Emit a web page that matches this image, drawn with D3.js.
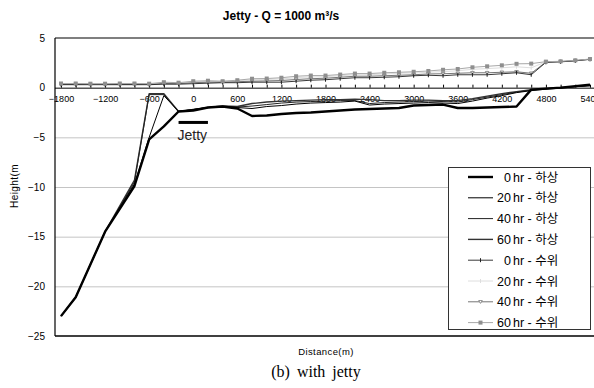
<!DOCTYPE html>
<html>
<head>
<meta charset="utf-8">
<script src="https://cdn.jsdelivr.net/npm/d3@7"></script>
<style>
  body { margin: 0; background: #fff; }
  svg { display: block; }
  text { font-family: "Liberation Sans", Arial, "Noto Sans CJK KR", sans-serif; }
</style>
</head>
<body>
<script>
// distance (m) along the channel, one category every 200 m
var distance = [-1800, -1600, -1400, -1200, -1000, -800, -600, -400, -200, 0, 200, 400, 600, 800, 1000, 1200,
                1400, 1600, 1800, 2000, 2200, 2400, 2600, 2800, 3000, 3200, 3400, 3600, 3800, 4000, 4200,
                4400, 4600, 4800, 5000, 5200, 5400];

// bed level (하상)
var bed0  = [-23.0, -21.1, -17.8, -14.5, -12.2, -9.9, -5.2, -3.9, -2.4, -2.3, -2.0, -1.9, -2.1, -2.85, -2.8, -2.65,
             -2.55, -2.5, -2.4, -2.3, -2.2, -2.15, -2.1, -2.05, -1.8, -1.75, -1.7, -2.05, -2.05, -2.0, -1.95,
             -1.9, -0.2, -0.1, 0.0, 0.15, 0.3];
var bed20 = [-23.0, -21.1, -17.8, -14.5, -12.1, -9.7, -5.0, -0.8, -2.4, -2.2, -2.0, -1.9, -2.0, -2.1, -1.9, -1.8,
             -1.65, -1.55, -1.5, -1.45, -1.35, -1.75, -1.65, -1.6, -1.55, -1.5, -1.55, -1.6, -1.35, -1.05, -0.8,
             -0.5, -0.3, -0.15, -0.05, 0.1, 0.25];
var bed40 = [-23.0, -21.1, -17.8, -14.5, -12.0, -9.5, -0.7, -0.7, -2.4, -2.2, -2.0, -1.9, -1.95, -1.85, -1.7, -1.55,
             -1.45, -1.4, -1.35, -1.3, -1.3, -1.6, -1.5, -1.45, -1.4, -1.35, -1.4, -1.45, -1.2, -0.95, -0.7,
             -0.45, -0.25, -0.1, 0.0, 0.1, 0.25];
var bed60 = [-23.0, -21.1, -17.8, -14.5, -11.9, -9.3, -0.6, -0.6, -2.4, -2.2, -2.0, -1.85, -1.9, -1.6, -1.45, -1.35,
             -1.3, -1.25, -1.2, -1.2, -1.15, -1.2, -1.3, -1.3, -1.25, -1.25, -1.3, -1.3, -1.1, -0.85, -0.6,
             -0.4, -0.2, -0.1, 0.0, 0.1, 0.2];

// water level (수위)
var wl0  = [0.3, 0.3, 0.3, 0.3, 0.3, 0.3, 0.3, 0.35, 0.35, 0.4, 0.45, 0.5, 0.5, 0.55, 0.55, 0.55,
            0.65, 0.75, 0.8, 0.9, 1.0, 1.0, 1.05, 1.1, 1.2, 1.25, 1.2, 1.3, 1.3, 1.3, 1.4,
            1.5, 1.3, 2.55, 2.6, 2.7, 2.85];
var wl20 = [0.38, 0.38, 0.36, 0.36, 0.38, 0.38, 0.36, 0.48, 0.45, 0.58, 0.62, 0.6, 0.68, 0.8, 0.82, 0.88,
            1.0, 1.08, 1.1, 1.2, 1.3, 1.3, 1.38, 1.45, 1.48, 1.55, 1.62, 1.7, 1.85, 1.92, 2.0,
            2.1, 2.0, 2.6, 2.63, 2.73, 2.87];
var wl40 = [0.34, 0.34, 0.33, 0.33, 0.34, 0.34, 0.33, 0.42, 0.4, 0.5, 0.55, 0.55, 0.6, 0.65, 0.68, 0.72,
            0.82, 0.9, 0.95, 1.05, 1.15, 1.15, 1.2, 1.25, 1.3, 1.38, 1.4, 1.45, 1.5, 1.5, 1.55,
            1.6, 1.45, 2.58, 2.62, 2.72, 2.86];
var wl60 = [0.42, 0.42, 0.4, 0.4, 0.42, 0.42, 0.4, 0.55, 0.5, 0.65, 0.7, 0.65, 0.75, 0.9, 0.92, 1.0,
            1.15, 1.22, 1.22, 1.32, 1.42, 1.42, 1.5, 1.55, 1.6, 1.68, 1.8, 1.88, 2.05, 2.15, 2.25,
            2.4, 2.42, 2.62, 2.65, 2.75, 2.88];

var yTicks = [5, 0, -5, -10, -15, -20, -25];
var xLabelTicks = [-1800, -1200, -600, 0, 600, 1200, 1800, 2400, 3000, 3600, 4200, 4800, 5400];
var jettyX = [-200, 200];
var jettyY = -3.5;

var seriesNames = ["0 hr - 하상", "20 hr - 하상", "40 hr - 하상", "60 hr - 하상",
                   "0 hr - 수위", "20 hr - 수위", "40 hr - 수위", "60 hr - 수위"];
var seriesValues = [bed0, bed20, bed40, bed60, wl0, wl20, wl40, wl60];

// drawing styles per series (same order)
var styles = [
  { stroke: "#000", width: 2.4, marker: null },
  { stroke: "#000", width: 1, marker: null },
  { stroke: "#222", width: 1, marker: null },
  { stroke: "#333", width: 1.4, marker: null },
  { stroke: "#222", width: 0.9, marker: "cross", mfill: "#222" },
  { stroke: "#dedede", width: 1, marker: "cross", mfill: "#dedede" },
  { stroke: "#666", width: 0.9, marker: "tri", mfill: "#fff", mstroke: "#555" },
  { stroke: "#a8a8a8", width: 1, marker: "square", mfill: "#8f8f8f" }
];

var width = 594, height = 388;
var plotLeft = 55, plotRight = 600, plotTop = 38, plotBottom = 336;

var svg = d3.select("body").append("svg")
  .attr("width", width)
  .attr("height", height);

var x = d3.scaleLinear().domain([-1800, 5400]).range([61, 590]);
var y = d3.scaleLinear().domain([-25, 5]).range([plotBottom, plotTop]);

// gridlines
svg.append("g")
  .attr("transform", "translate(" + plotLeft + ",0)")
  .call(d3.axisLeft(y).tickValues([-5, -10, -15, -20]).tickSize(-(plotRight - plotLeft)).tickFormat(""))
  .call(function(g) { g.select(".domain").remove(); })
  .selectAll("line").attr("stroke", "#c4c4c4");

// y labels
svg.append("g")
  .attr("transform", "translate(" + plotLeft + ",0)")
  .call(d3.axisLeft(y).tickValues(yTicks).tickSize(0).tickPadding(10))
  .call(function(g) { g.select(".domain").remove(); })
  .selectAll("text")
  .style("font-size", "10px")
  .attr("fill", "#000");

// plot frame
svg.append("line").attr("x1", plotLeft).attr("x2", plotLeft).attr("y1", plotTop).attr("y2", plotBottom)
  .attr("stroke", "#000").attr("stroke-width", 1.2);
svg.append("line").attr("x1", plotLeft).attr("x2", plotRight).attr("y1", plotTop).attr("y2", plotTop)
  .attr("stroke", "#000").attr("stroke-width", 1.2);
svg.append("line").attr("x1", plotLeft).attr("x2", plotRight).attr("y1", plotBottom).attr("y2", plotBottom)
  .attr("stroke", "#000").attr("stroke-width", 1.5);

// x axis crossing at 0: tick marks every category, labels every 600 m
svg.append("g")
  .attr("transform", "translate(0," + y(0) + ")")
  .call(d3.axisBottom(x).tickValues(distance).tickSizeInner(-3).tickSizeOuter(0).tickFormat(""))
  .call(function(g) {
    g.select(".domain").attr("d", "M" + plotLeft + ",0.5H" + plotRight);
  });

svg.append("g")
  .attr("transform", "translate(0," + y(0) + ")")
  .call(d3.axisBottom(x).tickValues(xLabelTicks).tickSize(0).tickPadding(8).tickFormat(d3.format("d")))
  .call(function(g) { g.select(".domain").remove(); })
  .selectAll("text")
  .style("font-family", "'Liberation Sans Narrow', 'Liberation Sans', sans-serif")
  .style("font-size", "9px")
  .attr("fill", "#000");

// series
var line = d3.line()
  .x(function(d, i) { return x(distance[i]); })
  .y(function(d) { return y(d); });

function drawMarker(g, st, cx, cy) {
  if (st.marker === "square") {
    g.append("rect").attr("x", cx - 2).attr("y", cy - 2).attr("width", 4).attr("height", 4)
      .attr("fill", st.mfill);
  } else if (st.marker === "cross") {
    g.append("path").attr("d", "M" + cx + "," + (cy - 2) + "V" + (cy + 2))
      .attr("stroke", st.mfill).attr("stroke-width", 1);
  } else if (st.marker === "tri") {
    g.append("path").attr("d", "M" + (cx - 1.8) + "," + (cy - 1.3) + "L" + (cx + 1.8) + "," + (cy - 1.3) + "L" + cx + "," + (cy + 1.6) + "Z")
      .attr("fill", st.mfill).attr("stroke", st.mstroke).attr("stroke-width", 0.6);
  }
}

// draw water levels first, then bed lines (thick 0 hr on top)
var order = [5, 6, 4, 7, 3, 2, 1, 0];
order.forEach(function(k) {
  var st = styles[k];
  var g = svg.append("g");
  g.append("path")
    .attr("d", line(seriesValues[k]))
    .attr("fill", "none")
    .attr("stroke", st.stroke)
    .attr("stroke-width", st.width)
    .attr("stroke-linejoin", "round");
  if (st.marker) {
    seriesValues[k].forEach(function(v, i) { drawMarker(g, st, x(distance[i]), y(v)); });
  }
});

// jetty annotation
svg.append("line")
  .attr("x1", x(jettyX[0])).attr("x2", x(jettyX[1]))
  .attr("y1", y(jettyY)).attr("y2", y(jettyY))
  .attr("stroke", "#000").attr("stroke-width", 3);
svg.append("text")
  .attr("x", x(0) - 1).attr("y", y(jettyY) + 18)
  .attr("text-anchor", "middle")
  .style("font-size", "14px")
  .attr("fill", "#222")
  .text("Jetty");

// legend
var legend = svg.append("g");
legend.append("rect")
  .attr("x", 448.5).attr("y", 167.5).attr("width", 142).attr("height", 162)
  .attr("fill", "#fff").attr("stroke", "#333").attr("stroke-width", 1);

seriesNames.forEach(function(name, i) {
  var st = styles[i];
  var ry = 177 + i * 20.8;
  var g = legend.append("g");
  g.append("line").attr("x1", 468).attr("x2", 493).attr("y1", ry).attr("y2", ry)
    .attr("stroke", st.stroke).attr("stroke-width", st.width);
  if (st.marker) drawMarker(g, st, 480.5, ry);
  var parts = name.split(" hr");
  g.append("text").attr("x", 511).attr("y", ry + 4.5).attr("text-anchor", "end")
    .style("font-size", "12.5px").text(parts[0]);
  g.append("text").attr("x", 513).attr("y", ry + 4.5).style("font-size", "12.5px").text("hr" + parts[1]);
});

// titles
svg.append("text")
  .attr("x", 281).attr("y", 20)
  .attr("text-anchor", "middle")
  .style("font-size", "12px")
  .style("font-weight", "bold")
  .text("Jetty - Q = 1000 m³/s");

svg.append("text")
  .attr("x", 326).attr("y", 355)
  .attr("text-anchor", "middle")
  .style("font-size", "9.5px")
  .style("letter-spacing", "0.4px")
  .text("Distance(m)");

svg.append("text")
  .attr("transform", "translate(18,186) rotate(-90)")
  .attr("text-anchor", "middle")
  .style("font-size", "10px")
  .style("letter-spacing", "0.4px")
  .text("Height(m");

svg.append("text")
  .attr("x", 316).attr("y", 377)
  .attr("text-anchor", "middle")
  .style("font-family", "'Liberation Serif', 'Times New Roman', serif")
  .style("font-size", "16px")
  .style("word-spacing", "3px")
  .text("(b) with jetty");
</script>
</body>
</html>
